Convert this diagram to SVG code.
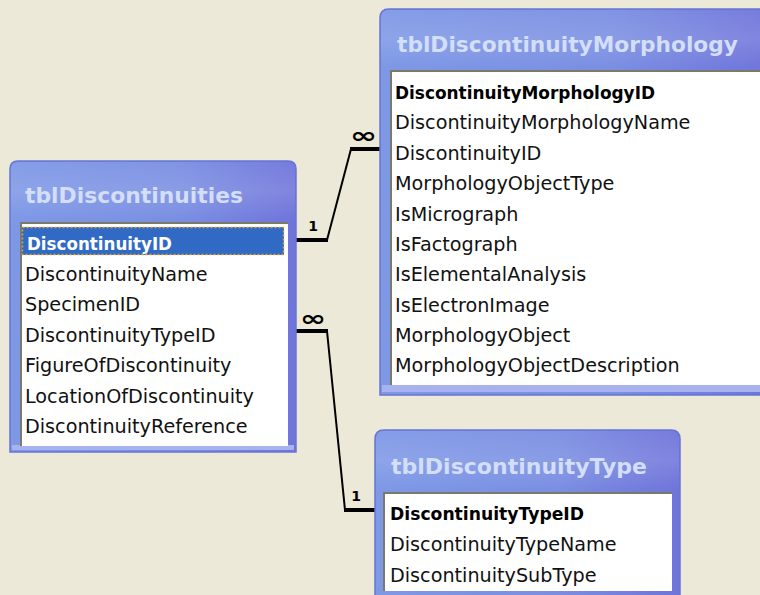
<svg xmlns="http://www.w3.org/2000/svg" width="760" height="595" viewBox="0 0 760 595">
<defs>
<linearGradient id="frameH" x1="0" y1="0" x2="1" y2="0">
<stop offset="0" stop-color="#7E98E6"/>
<stop offset="0.6" stop-color="#7A8EE2"/>
<stop offset="1" stop-color="#6F74DA"/>
</linearGradient>
<linearGradient id="titleV" x1="0" y1="0" x2="0" y2="1">
<stop offset="0" stop-color="#FFFFFF" stop-opacity="0.05"/>
<stop offset="0.5" stop-color="#FFFFFF" stop-opacity="0.12"/>
<stop offset="1" stop-color="#FFFFFF" stop-opacity="0"/>
</linearGradient>
<style>
.frame{fill:url(#frameH);stroke:#6676D4;stroke-width:1.5}
.shine{fill:url(#titleV)}
.bottomband{fill:#A7B2EF}
.list{fill:#FFFFFF}
.inset{fill:none;stroke:#7B7968;stroke-width:2}
.title{font-family:"DejaVu Sans",sans-serif;font-weight:bold;font-size:22px;fill:#D3DEF7}
.row{font-family:"DejaVu Sans",sans-serif;font-size:19.2px;fill:#111111}
.key{font-family:"DejaVu Sans",sans-serif;font-size:18px;font-weight:bold;fill:#000000}
.sel{fill:#316AC5}
.selb{fill:none;stroke:#D9A23A;stroke-width:1.5;stroke-dasharray:2 2}
.seltext{font-family:"DejaVu Sans",sans-serif;font-size:18px;font-weight:bold;fill:#FFFFFF}
.thick{stroke:#000;stroke-width:4;fill:none}
.thin{stroke:#000;stroke-width:2;fill:none}
.card{font-family:"DejaVu Sans",sans-serif;font-weight:bold;font-size:14px;fill:#000}
.many{font-family:"DejaVu Sans",sans-serif;font-weight:bold;font-size:22px;fill:#000}
</style>
</defs>
<rect x="0" y="0" width="760" height="595" fill="#ECE9D8"/>

<g id="connectors">
<line class="thick" x1="296" y1="240" x2="328" y2="240"/>
<line class="thin" x1="327" y1="240" x2="351" y2="149"/>
<line class="thick" x1="350" y1="149" x2="380" y2="149"/>
<text class="card" x="313" y="231" text-anchor="middle">1</text>
<text class="many" x="350" y="143" textLength="27" lengthAdjust="spacingAndGlyphs">∞</text>
<line class="thick" x1="296" y1="331" x2="328" y2="331"/>
<line class="thin" x1="327" y1="331" x2="345" y2="510"/>
<line class="thick" x1="344" y1="510" x2="376" y2="510"/>
<text class="many" x="300" y="326" textLength="26" lengthAdjust="spacingAndGlyphs">∞</text>
<text class="card" x="356" y="501" text-anchor="middle">1</text>
</g>

<g id="tblDiscontinuities">
<path class="frame" d="M10,452 V169 Q10,161 18,161 H288 Q296,161 296,169 V452 Z"/>
<path class="shine" d="M11,170 Q11,162 18,162 H288 Q295,162 295,170 V220 H11 Z"/>
<rect class="bottomband" x="12" y="445" width="282" height="5"/>
<rect class="list" x="20" y="222" width="268" height="224"/>
<path class="inset" d="M21,446 V223 H288"/>
<text class="title" x="25" y="203" textLength="218" lengthAdjust="spacingAndGlyphs">tblDiscontinuities</text>
<rect class="sel" x="22" y="227" width="262" height="28"/>
<rect class="selb" x="22.5" y="227.5" width="261" height="27"/>
<text class="seltext" x="27" y="250" textLength="145" lengthAdjust="spacingAndGlyphs">DiscontinuityID</text>
<text class="row" x="25" y="281">DiscontinuityName</text>
<text class="row" x="25" y="311">SpecimenID</text>
<text class="row" x="25" y="342">DiscontinuityTypeID</text>
<text class="row" x="25" y="372">FigureOfDiscontinuity</text>
<text class="row" x="25" y="403">LocationOfDiscontinuity</text>
<text class="row" x="25" y="433">DiscontinuityReference</text>
</g>

<g id="tblDiscontinuityMorphology">
<path class="frame" d="M380,395 V18 Q380,9 389,9 H770 V395 Z"/>
<path class="shine" d="M381,18 Q381,10 389,10 H770 V68 H381 Z"/>
<rect class="bottomband" x="382" y="385" width="380" height="7"/>
<rect class="list" x="390" y="70" width="372" height="315"/>
<path class="inset" d="M391,385 V71 H762"/>
<text class="title" x="397" y="52" textLength="341" lengthAdjust="spacingAndGlyphs">tblDiscontinuityMorphology</text>
<text class="key" x="395" y="99" textLength="260" lengthAdjust="spacingAndGlyphs">DiscontinuityMorphologyID</text>
<text class="row" x="395" y="129">DiscontinuityMorphologyName</text>
<text class="row" x="395" y="160">DiscontinuityID</text>
<text class="row" x="395" y="190">MorphologyObjectType</text>
<text class="row" x="395" y="221">IsMicrograph</text>
<text class="row" x="395" y="251">IsFactograph</text>
<text class="row" x="395" y="281">IsElementalAnalysis</text>
<text class="row" x="395" y="312">IsElectronImage</text>
<text class="row" x="395" y="342">MorphologyObject</text>
<text class="row" x="395" y="372">MorphologyObjectDescription</text>
</g>

<g id="tblDiscontinuityType">
<path class="frame" d="M375,605 V439 Q375,430 384,430 H671 Q680,430 680,439 V605 Z"/>
<path class="shine" d="M376,439 Q376,431 384,431 H671 Q679,431 679,439 V490 H376 Z"/>
<rect class="list" x="383" y="492" width="289" height="99"/>
<path class="inset" d="M384,591 V493 H672"/>
<text class="title" x="391" y="474" textLength="256" lengthAdjust="spacingAndGlyphs">tblDiscontinuityType</text>
<text class="key" x="390" y="520" textLength="194" lengthAdjust="spacingAndGlyphs">DiscontinuityTypeID</text>
<text class="row" x="390" y="551">DiscontinuityTypeName</text>
<text class="row" x="390" y="582">DiscontinuitySubType</text>
</g>
</svg>
